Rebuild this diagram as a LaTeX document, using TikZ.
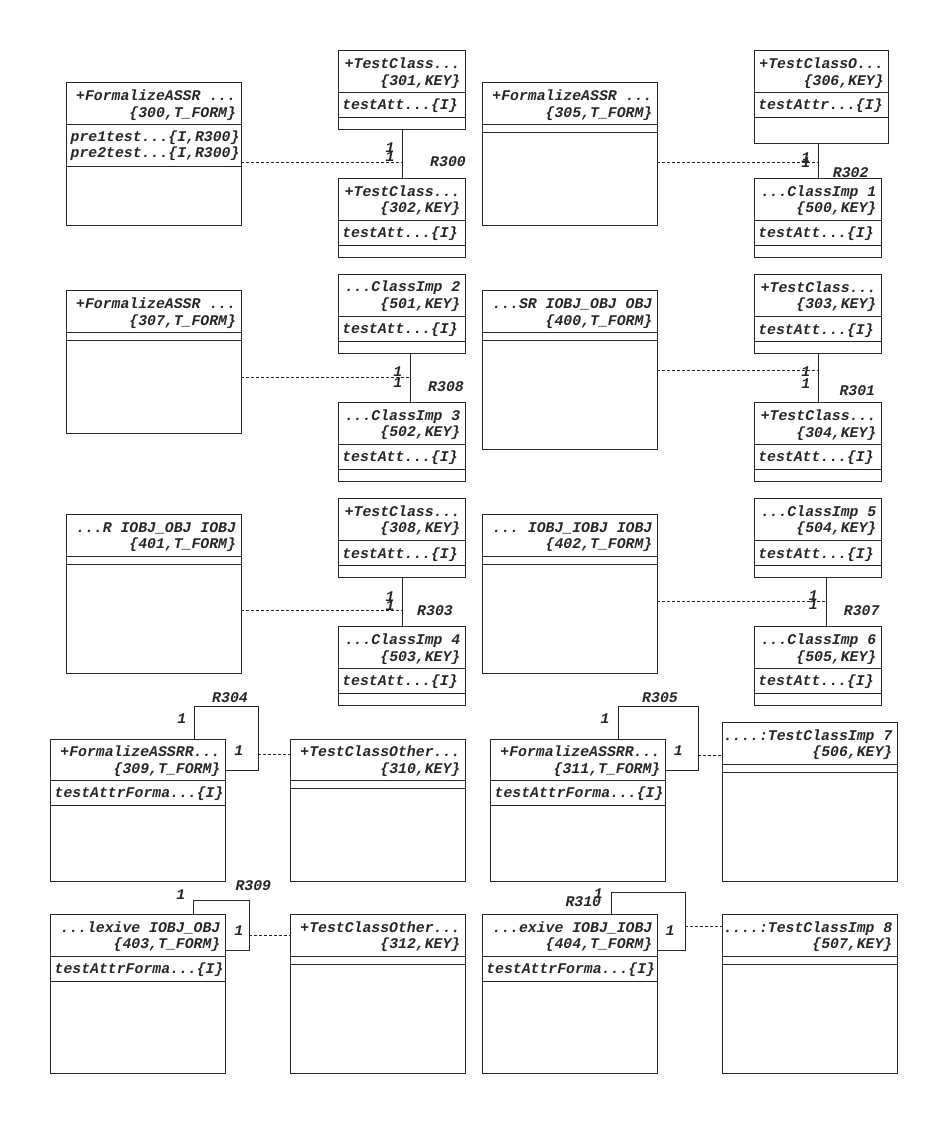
\documentclass[tikz,border=0pt]{standalone}
\usepackage{fontspec}
\setmonofont{Liberation Mono}
\begin{document}
\begin{tikzpicture}[x=1pt,y=-1pt,
  ink/.style={draw=black!85, line width=1pt},
  classbox/.style={ink, rectangle, inner sep=0pt, outer sep=0pt},
  assoc/.style={ink},
  link/.style={draw=black!85, line width=1pt, dash pattern=on 3pt off 2pt},
  txt/.style={inner sep=0pt, outer sep=0pt, text=black!85,
    font=\fontsize{14.8}{16}\selectfont\ttfamily\bfseries\itshape},
]
\useasboundingbox (0,0) rectangle (948,1124);

% class box: name, left, top, right, bottom, header rule, attribute rule, header line 1, header line 2
\newcommand\umlclass[9]{%
  \node[classbox, minimum width={#4-#2}, minimum height={#5-#3}, anchor=north west] (#1) at (#2,#3) {};
  \draw[ink] (#1.west |- 0,#6) -- (#1.east |- 0,#6);
  \draw[ink] (#1.west |- 0,#7) -- (#1.east |- 0,#7);
  \node[txt, anchor=base east, xshift=-5pt, yshift=-17.8pt] (#1-h1) at (#1.north east) {#8};
  \node[txt, anchor=base east, xshift=-5pt, yshift=-34.5pt] (#1-h2) at (#1.north east) {#9};
}
% attribute line: name, suffix, rule y, baseline offset, text
\newcommand\attrline[5]{%
  \node[txt, anchor=base west, xshift=4pt, yshift=-#4pt] (#1-#2) at (#1.west |- 0,#3) {#5};
}

% ---------- row 1 ----------
\umlclass{c300}{66.7}{82.7}{241}{225}{124.3}{166}{+FormalizeASSR ...}{\{300,T\_FORM\}}
\attrline{c300}{a1}{124.3}{17.3}{pre1test...\{I,R300\}}
\attrline{c300}{a2}{124.3}{33.3}{pre2test...\{I,R300\}}
\umlclass{c301}{338.3}{50.7}{465.3}{129}{92.3}{117.3}{+TestClass...}{\{301,KEY\}}
\attrline{c301}{a1}{92.3}{17.3}{testAtt...\{I\}}
\umlclass{c302}{338.3}{178.3}{465.3}{257.3}{220}{245.7}{+TestClass...}{\{302,KEY\}}
\attrline{c302}{a1}{220}{17.3}{testAtt...\{I\}}

\umlclass{c305}{482.3}{82.7}{657.3}{225}{124.3}{132.3}{+FormalizeASSR ...}{\{305,T\_FORM\}}
\umlclass{c306}{754.3}{50.7}{888.7}{143.3}{92.3}{117.3}{+TestClassO...}{\{306,KEY\}}
\attrline{c306}{a1}{92.3}{17.3}{testAttr...\{I\}}
\umlclass{c500}{754.3}{178.3}{881.3}{257.3}{220}{245.7}{...ClassImp 1}{\{500,KEY\}}
\attrline{c500}{a1}{220}{17.3}{testAtt...\{I\}}

% ---------- row 2 ----------
\umlclass{c307}{66.7}{290.7}{241}{433.3}{332.3}{340.7}{+FormalizeASSR ...}{\{307,T\_FORM\}}
\umlclass{c501}{338.3}{274}{465.3}{353.3}{316}{341.3}{...ClassImp 2}{\{501,KEY\}}
\attrline{c501}{a1}{316}{17.3}{testAtt...\{I\}}
\umlclass{c502}{338.3}{402.3}{465.3}{481.3}{444.3}{469.3}{...ClassImp 3}{\{502,KEY\}}
\attrline{c502}{a1}{444.3}{17.3}{testAtt...\{I\}}

\umlclass{c400}{482.3}{290.7}{657.3}{449.3}{332.3}{340.7}{...SR IOBJ\_OBJ OBJ}{\{400,T\_FORM\}}
\umlclass{c303}{754.3}{274.3}{881.3}{353.3}{316.7}{341.3}{+TestClass...}{\{303,KEY\}}
\attrline{c303}{a1}{316.7}{17.3}{testAtt...\{I\}}
\umlclass{c304}{754.3}{402.7}{881.3}{481.3}{444.3}{469.3}{+TestClass...}{\{304,KEY\}}
\attrline{c304}{a1}{444.3}{17.3}{testAtt...\{I\}}

% ---------- row 3 ----------
\umlclass{c401}{66.7}{514.3}{241}{673.3}{556}{564.3}{...R IOBJ\_OBJ IOBJ}{\{401,T\_FORM\}}
\umlclass{c308}{338.3}{498.3}{465.3}{577.3}{540.7}{565.7}{+TestClass...}{\{308,KEY\}}
\attrline{c308}{a1}{540.7}{17.3}{testAtt...\{I\}}
\umlclass{c503}{338.3}{626.7}{465.3}{705}{668.3}{693.3}{...ClassImp 4}{\{503,KEY\}}
\attrline{c503}{a1}{668.3}{17.3}{testAtt...\{I\}}

\umlclass{c402}{482.3}{514.3}{657.3}{673.3}{556}{564.3}{... IOBJ\_IOBJ IOBJ}{\{402,T\_FORM\}}
\umlclass{c504}{754.3}{498.3}{881.3}{577.3}{540.7}{565.7}{...ClassImp 5}{\{504,KEY\}}
\attrline{c504}{a1}{540.7}{17.3}{testAtt...\{I\}}
\umlclass{c505}{754.3}{626.7}{881.3}{705}{668.3}{693.3}{...ClassImp 6}{\{505,KEY\}}
\attrline{c505}{a1}{668.3}{17.3}{testAtt...\{I\}}

% ---------- row 4 ----------
\umlclass{c309}{50.7}{739}{225.3}{881.3}{780.3}{805.7}{+FormalizeASSRR...}{\{309,T\_FORM\}}
\attrline{c309}{a1}{780.3}{17.3}{testAttrForma...\{I\}}
\umlclass{c310}{290.7}{739}{465.3}{881.3}{780.3}{788.3}{+TestClassOther...}{\{310,KEY\}}
\umlclass{c311}{490.7}{739}{665.3}{881.3}{780.3}{805.7}{+FormalizeASSRR...}{\{311,T\_FORM\}}
\attrline{c311}{a1}{780.3}{17.3}{testAttrForma...\{I\}}
\umlclass{c506}{722.3}{722.3}{897.3}{881.3}{764.7}{772.3}{....:TestClassImp 7}{\{506,KEY\}}

% ---------- row 5 ----------
\umlclass{c403}{50.7}{914.3}{225.3}{1073.3}{956.3}{981.7}{...lexive IOBJ\_OBJ}{\{403,T\_FORM\}}
\attrline{c403}{a1}{956.3}{17.3}{testAttrForma...\{I\}}
\umlclass{c312}{290.7}{914.3}{465.3}{1073.3}{956.3}{964.3}{+TestClassOther...}{\{312,KEY\}}
\umlclass{c404}{482.3}{914.3}{657.3}{1073.3}{956.3}{981.7}{...exive IOBJ\_IOBJ}{\{404,T\_FORM\}}
\attrline{c404}{a1}{956.3}{17.3}{testAttrForma...\{I\}}
\umlclass{c507}{722.3}{914.3}{897.3}{1073.3}{956.3}{964.3}{....:TestClassImp 8}{\{507,KEY\}}

% ---------- associations between two classes, with a link class ----------
\coordinate (j300) at (402.3,162.3);
\draw[assoc] (c301.south -| j300) -- (c302.north -| j300);
\draw[link] (c300.east |- j300) -- (j300);
\node[txt] (m300a) at (390,148) {1};
\node[txt] (m300b) at (390,157) {1};
\node[txt] (r300) at (448,162) {R300};

\coordinate (j302) at (818.3,162.3);
\draw[assoc] (c306.south -| j302) -- (c500.north -| j302);
\draw[link] (c305.east |- j302) -- (j302);
\node[txt] (m302a) at (805.7,158) {1};
\node[txt] (m302b) at (805.7,163) {1};
\node[txt] (r302) at (850.7,172.3) {R302};

\coordinate (j308) at (410.7,377.3);
\draw[assoc] (c501.south -| j308) -- (c502.north -| j308);
\draw[link] (c307.east |- j308) -- (j308);
\node[txt] (m308a) at (397.7,371.7) {1};
\node[txt] (m308b) at (397.7,382.7) {1};
\node[txt] (r308) at (446,386.7) {R308};

\coordinate (j301) at (818.3,370);
\draw[assoc] (c303.south -| j301) -- (c304.north -| j301);
\draw[link] (c400.east |- j301) -- (j301);
\node[txt] (m301a) at (805.7,371.7) {1};
\node[txt] (m301b) at (805.7,383.3) {1};
\node[txt] (r301) at (857.3,391) {R301};

\coordinate (j303) at (402.7,610.3);
\draw[assoc] (c308.south -| j303) -- (c503.north -| j303);
\draw[link] (c401.east |- j303) -- (j303);
\node[txt] (m303a) at (390,596.7) {1};
\node[txt] (m303b) at (390,606) {1};
\node[txt] (r303) at (435,610.7) {R303};

\coordinate (j307) at (826.3,601.7);
\draw[assoc] (c504.south -| j307) -- (c505.north -| j307);
\draw[link] (c402.east |- j307) -- (j307);
\node[txt] (m307a) at (813.3,596) {1};
\node[txt] (m307b) at (813.3,605) {1};
\node[txt] (r307) at (861.7,610.7) {R307};

% ---------- reflexive associations ----------
\coordinate (s304) at (194.3,739);
\coordinate (k304) at (258.3,706);
\coordinate (e304) at (225.3,770);
\draw[assoc] (c309.north -| s304) |- (k304) |- (c309.east |- e304);
\draw[link] (k304 |- 0,754) -- (c310.west |- 0,754);
\node[txt] (m304a) at (181.7,719) {1};
\node[txt] (m304b) at (238.7,751) {1};
\node[txt] (r304) at (230,697.3) {R304};

\coordinate (s305) at (618.3,739);
\coordinate (k305) at (698.3,706);
\coordinate (e305) at (665.3,770);
\draw[assoc] (c311.north -| s305) |- (k305) |- (c311.east |- e305);
\draw[link] (k305 |- 0,755.3) -- (c506.west |- 0,755.3);
\node[txt] (m305a) at (605,719) {1};
\node[txt] (m305b) at (678.3,751) {1};
\node[txt] (r305) at (660,697.3) {R305};

\coordinate (s309) at (193.7,914.3);
\coordinate (k309) at (249.3,900.7);
\coordinate (e309) at (225.3,950.3);
\draw[assoc] (c403.north -| s309) |- (k309) |- (c403.east |- e309);
\draw[link] (k309 |- 0,935.3) -- (c312.west |- 0,935.3);
\node[txt] (m309a) at (180.7,895) {1};
\node[txt] (m309b) at (238.7,931) {1};
\node[txt] (r309) at (253.3,885.7) {R309};

\coordinate (s310) at (611.7,914.3);
\coordinate (k310) at (685,892);
\coordinate (e310) at (657.3,950.3);
\draw[assoc] (c404.north -| s310) |- (k310) |- (c404.east |- e310);
\draw[link] (k310 |- 0,926.7) -- (c507.west |- 0,926.7);
\node[txt] (m310a) at (598.3,894) {1};
\node[txt] (m310b) at (670,931) {1};
\node[txt] (r310) at (583.3,901.7) {R310};
\end{tikzpicture}
\end{document}
